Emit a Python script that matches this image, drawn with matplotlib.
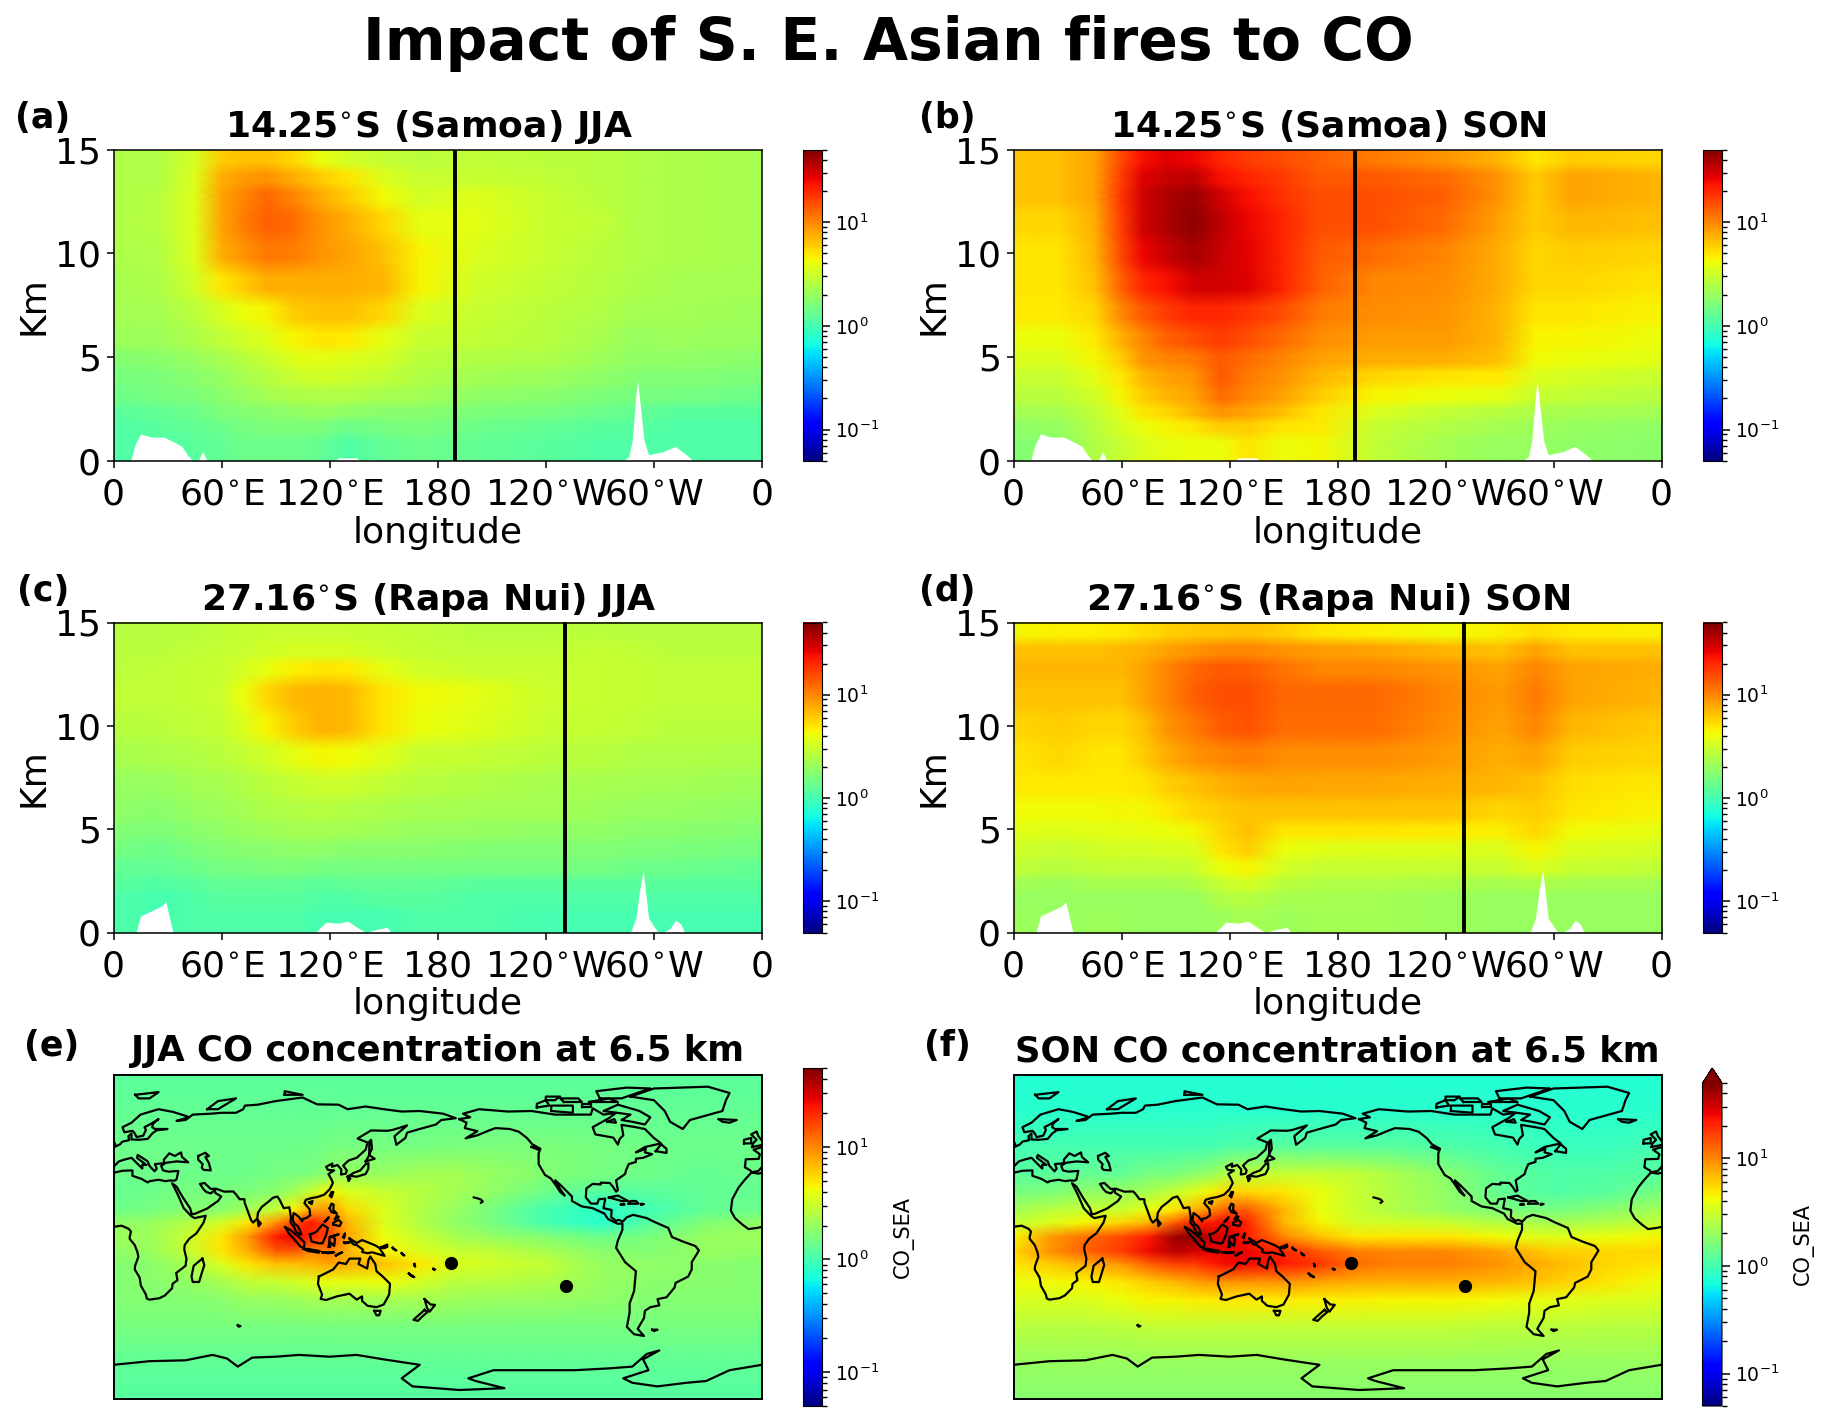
import numpy as np
import matplotlib
matplotlib.use("Agg")
import matplotlib.pyplot as plt
from matplotlib.colors import LogNorm

W, H = 1827, 1422
VMIN, VMAX = 0.05, 50

# ---------- section data (rows from top layer down) ----------
sec_lon = [0, 25, 45, 60, 72, 85, 100, 115, 130, 150, 170, 200, 240, 270, 290, 310, 360]
layer_edges = [15, 14.1, 13.2, 12.3, 10.7, 9.3, 7.8, 6.5, 5.3, 4.5, 3.6, 2.7, 2, 1.3, 0]

samoa_jja = [
 [2.5,2.5,3.3,6,6.5,6.5,5.5,4,3.2,2.9,2.7,2.8,2.7,2.6,2.5,2.4,2.3],
 [2.5,2.5,3.5,7.5,8.5,9,7.5,6,5,3.5,3,3,2.8,2.6,2.5,2.4,2.3],
 [2.5,2.6,3.6,8,10,12.5,10,7.5,6,4.2,3.2,3.6,3,2.7,2.5,2.4,2.3],
 [2.5,2.6,3.6,8,10.5,13,12,9,7.5,5.5,3.8,3.8,3,2.8,2.5,2.4,2.3],
 [2.4,2.5,3.6,7.5,9,11,10.5,9,8,6.5,4.5,3.5,3,2.7,2.5,2.4,2.3],
 [2.3,2.4,3.2,5,6,7.5,7.5,7.5,7.5,7,4.5,3.2,2.8,2.6,2.4,2.3,2.2],
 [2.2,2.3,2.7,3.4,4,4.5,6,6.5,6.5,5.5,3.5,3,2.7,2.5,2.2,2.2,2.1],
 [2.1,2.1,2.4,2.8,3.2,3.6,4.5,5,4.8,3.8,3,2.8,2.6,2.3,2,2.1,2.0],
 [1.7,1.8,2,2.3,2.6,3,3.6,3.8,3.6,3.2,2.7,2.5,2.4,2.1,1.9,1.9,1.8],
 [1.5,1.6,1.8,2,2.3,2.6,3,3.2,3.1,2.8,2.5,2.2,2.1,1.9,1.7,1.7,1.6],
 [1.4,1.5,1.6,1.8,2,2.2,2.4,2.5,2.5,2.3,2.2,1.9,1.8,1.6,1.5,1.5,1.4],
 [1.2,1.3,1.4,1.6,1.7,1.8,1.9,2,1.9,1.8,1.8,1.6,1.5,1.4,1.3,1.2,1.2],
 [1.1,1.2,1.3,1.4,1.5,1.6,1.6,1.6,1.4,1.5,1.6,1.4,1.3,1.2,1.2,1.1,1.1],
 [1.1,1.1,1.2,1.3,1.4,1.4,1.4,1.3,1.1,1.3,1.4,1.3,1.2,1.1,1.1,1.1,1.1],
]
samoa_son = [
 [6.5,6.5,8,16,24,28,26,20,17,15,13,11,9,7,5,6,5.5],
 [6.5,6.5,8,17,28,32,34,24,20,17,14,14,12,9,6,8,7],
 [6.5,6.5,8,18,30,38,42,30,24,18,15,15,13,9,6,8,7],
 [5.5,5.5,7.5,17,30,38,45,34,26,20,15,15,12,8,6,7,6.5],
 [5,5,7,16,26,32,40,32,27,20,14,12,10,7.5,5.5,6,5.5],
 [5,5,6.5,13,20,24,30,30,28,20,13,10,9.5,7.5,5.5,5.5,5],
 [4.8,4.8,5.5,10,14,17,20,20,18,15,11,9.5,9,7,5,5,4.5],
 [4,4,4.8,7.5,10,13,15,17,15,12,9.5,8.5,8.5,7,4.5,4.5,4],
 [3.5,3.5,4.3,6,9,10,11,14,12,10,8,7.5,7.5,6.5,4.2,4,3.7],
 [3,3,3.8,5,7,8,9,14,11,9,7,5.5,5,4.8,3.5,3.3,3],
 [2.7,2.7,3.2,4.5,6,7,8,12,10,8,6,4.5,4,3.8,3,2.8,2.6],
 [2.2,2.3,2.8,3.8,5,5.5,7,9,8,6.5,5,3.5,2.8,2.6,2.4,2.3,2.2],
 [1.9,2,2.6,3.4,4,4.5,5,6,6,5,4.8,3,2.5,2.2,2.1,2,1.9],
 [1.7,1.8,2.5,3,3.5,3.8,4,4,5,4,4.3,2.8,2.2,2,2,1.9,1.8],
]
rapa_jja = [
 [2.6,2.6,2.7,2.8,2.9,3,3,3,3,2.9,2.8,2.7,2.7,2.7,2.6,2.6,2.6],
 [2.7,2.7,2.8,2.9,3,3.2,3.3,3.4,3.3,3.1,2.9,2.8,2.8,2.9,2.8,2.7,2.7],
 [2.7,2.8,2.9,3,3.3,3.9,4.6,5,4.8,3.8,3.2,3,3,3,2.9,2.8,2.8],
 [2.8,2.8,2.9,3.1,4,5.5,6.8,7.3,6.8,5,4.2,3.8,3.1,3,2.9,2.8,2.8],
 [2.6,2.7,2.8,2.9,3.5,4.5,6,7.3,6.8,5,4,3.6,3,2.9,2.8,2.7,2.7],
 [2.3,2.4,2.5,2.7,2.9,3.2,3.8,4.4,4.2,3.6,3,2.9,2.7,2.6,2.5,2.5,2.4],
 [2,2,2.2,2.3,2.5,2.7,2.9,3.1,3.1,2.8,2.6,2.5,2.3,2.3,2.2,2.2,2.1],
 [1.9,1.8,2,2.1,2.2,2.4,2.5,2.6,2.5,2.4,2.3,2.2,2.2,2.1,2,2,1.9],
 [1.7,1.6,1.8,1.9,2,2.1,2.2,2.2,2.2,2.1,2,2,1.9,1.9,1.8,1.8,1.7],
 [1.5,1.4,1.6,1.7,1.8,1.8,1.9,1.9,1.8,1.8,1.8,1.7,1.7,1.7,1.6,1.6,1.5],
 [1.3,1.3,1.4,1.5,1.5,1.6,1.6,1.5,1.5,1.5,1.5,1.5,1.5,1.5,1.4,1.4,1.3],
 [1.2,1.1,1.2,1.3,1.3,1.3,1.3,1.2,1.3,1.3,1.3,1.2,1.2,1.2,1.2,1.2,1.2],
 [1.1,1,1.1,1.2,1.2,1.2,1.2,1.1,1.1,1.2,1.2,1.1,1.1,1.1,1.1,1.1,1.1],
 [1.1,1,1.1,1.1,1.1,1.1,1.1,1,1,1,1.1,1.1,1,1,1,1,1],
]
rapa_son = [
 [4.4,4.6,4.6,4.8,5.3,5.8,6.2,6.2,6.5,5.8,5,4.6,4.2,4.6,5.2,4.8,4.6],
 [6.5,6.5,6.5,6.8,7.2,8,9,10,10,9,8.5,8,7,6.5,8,6.5,6.5],
 [7,7,7,7,8,10,12.5,14,13.5,11.5,10,10,9,8,10,8,7.5],
 [6.5,6.5,6.5,6.5,8,10,13,15,15,12.5,12.5,12.5,10,8.5,11,8,7],
 [5.5,6,5.5,5.5,6.5,9,11,13.5,14.5,12,12,12,9.5,8,10,7,6],
 [5,5.5,5,5,6,7.5,9,10,10.5,9.5,9.5,9.5,8.5,7.5,8,6,5.5],
 [4.8,4.8,4.8,4.8,5,5.8,6.5,7.2,7.8,8,7.8,7.8,7.5,7,6.5,5.2,4.8],
 [4.2,4.2,4.2,4.3,4.4,4.8,5.5,6,6.5,6.5,6.5,6.5,6.5,5.5,6,5,4.5],
 [3.7,3.6,3.7,3.8,3.9,4,4.3,5.5,6.5,5,5,5,4.8,4.6,5.5,4.2,3.8],
 [3.2,3,3.2,3.3,3.3,3.4,3.5,5,6,4,3.7,3.6,3.6,3.5,4.5,3.5,3.3],
 [2.8,2.6,2.8,2.8,2.8,2.8,3,4,4.5,3.3,3,3,3,3,3.5,3,2.8],
 [2.2,2.1,2.3,2.3,2.3,2.3,2.4,3,3.3,2.7,2.5,2.5,2.4,2.3,2.4,2.3,2.2],
 [2,2,2,2,2,2,2,2.5,2.6,2.3,2.3,2.2,2.1,2,2,2,2],
 [2.1,2,2.1,2.1,2,2,2,2.1,2.3,2.1,2.2,2.2,2.1,2,2,2,2],
]

# ---------- terrain along each section ----------
terr14_lon = [0,9.5,12,15,21,28,35,38,41,44,47,49.5,52,122,125,135,137,145,148,283,286,288,290,291,292,294.5,297,305,312,318,322,360]
terr14_z   = [0,0,0.8,1.3,1.15,1.15,0.85,0.7,0.3,0,0,0.45,0,0,0.15,0.15,0,0.05,0,0,0.2,1,3.2,3.85,3,1,0.3,0.45,0.7,0.3,0,0]
terr27_lon = [0,12.5,15,20,27,29,33,112,118,125,130,138,140,146,152,154,287,290,292,294,296,297,300,302,305,309,312,315,317,360]
terr27_z   = [0,0,0.8,1,1.3,1.5,0,0,0.5,0.45,0.55,0.1,0,0.15,0.25,0,0,0.7,2,3,1.5,0.7,0.3,0.05,0,0.2,0.6,0.4,0,0]

# ---------- maps at 6.5 km ----------
map_lon = [0,20,40,60,75,90,100,110,120,130,150,170,190,210,240,270,300,330,360]
map_lat = [90,70,50,35,25,15,8,0,-8,-15,-25,-35,-50,-70,-90]
map_jja = [
 [1.2,1.2,1.2,1.2,1.2,1.2,1.2,1.2,1.2,1.2,1.2,1.2,1.2,1.2,1.2,1.2,1.2,1.2,1.2],
 [1.3,1.3,1.3,1.3,1.3,1.3,1.3,1.3,1.3,1.3,1.3,1.3,1.3,1.3,1.3,1.3,1.3,1.3,1.3],
 [1.4,1.4,1.4,1.4,1.4,1.4,1.4,1.4,1.5,1.5,1.5,1.5,1.6,1.6,1.6,1.5,1.4,1.4,1.4],
 [1.4,1.4,1.4,1.4,1.4,1.5,1.5,1.6,1.8,2,2,2.2,2.2,2.0,1.7,1.5,1.4,1.3,1.4],
 [1.3,1.4,1.5,1.5,1.6,1.8,2.2,3,4.5,3.5,3,2.6,2.2,1.9,1.4,1.15,1.2,1.3,1.3],
 [1.4,1.5,1.7,1.8,2.2,3,4.5,8,9,5.5,3.5,2.5,2,1.5,1.0,0.82,1,1.3,1.4],
 [1.9,2,2.5,3.2,5,9,16,22,14,7,3.5,2.5,1.9,1.5,1.0,0.8,1.2,1.7,1.9],
 [2.1,2.1,3,5,9,22,26,20,16,8,4,3,2.3,2,1.7,1.4,1.6,2,2.1],
 [1.9,2,2.8,5,7.5,14,14,10,11,7,4.5,3.5,3,2.8,2.3,1.8,1.7,2,1.9],
 [1.7,1.8,2.2,3.5,5,6.5,6.5,7,8,7.5,6.5,5,3.5,3.2,2.8,2,1.9,1.8,1.7],
 [1.7,1.8,1.9,2.3,2.8,3,3.2,3.5,4,3.8,4,3.3,2.6,2.6,2.4,2,1.8,1.8,1.7],
 [1.7,1.7,1.7,1.8,2,2,2.1,2.2,2.2,2.2,2.2,2.2,2.1,2,2,1.9,1.7,1.7,1.7],
 [1.5,1.5,1.5,1.5,1.5,1.5,1.5,1.5,1.5,1.5,1.5,1.5,1.5,1.5,1.5,1.5,1.5,1.5,1.5],
 [1.25,1.25,1.25,1.25,1.25,1.25,1.25,1.25,1.25,1.25,1.25,1.25,1.25,1.25,1.25,1.25,1.25,1.25,1.25],
 [1.15,1.15,1.15,1.15,1.15,1.15,1.15,1.15,1.15,1.15,1.15,1.15,1.15,1.15,1.15,1.15,1.15,1.15,1.15],
]
map_son = [
 [0.75,0.75,0.75,0.75,0.75,0.75,0.75,0.75,0.75,0.75,0.75,0.75,0.75,0.75,0.75,0.75,0.75,0.75,0.75],
 [0.8,0.8,0.8,0.8,0.8,0.8,0.8,0.8,0.8,0.8,0.8,0.8,0.8,0.8,0.8,0.8,0.8,0.8,0.8],
 [1,1,1,1,1,1,1,1,1.1,1.1,1.2,1.2,1.2,1.2,1.1,1,0.9,0.9,1],
 [1.2,1.2,1.3,1.3,1.5,1.6,1.8,2,2.6,2.8,3,3,2.8,2.4,1.8,1.3,1.1,1.1,1.2],
 [1.5,1.6,1.9,2,2.3,3,3.6,4.5,5.5,5.5,5,4,3,2.5,1.9,1.3,1.1,1.2,1.5],
 [2.2,2.6,3,3,4,5,7,10,14,14,7,4,3,2.5,2,1.6,1.5,1.8,2.2],
 [2.8,3.5,4.5,5.5,7,14,20,22,25,20,7,4.5,3.2,3.2,3,2.5,2.2,2.5,2.8],
 [4.5,8.5,12,16,22,42,45,32,28,22,10,6.5,5,5,5,4.2,3.6,4,4.5],
 [5.5,9,13,17,25,35,30,26,26,26,20,14,10.5,10,10,8,5.8,5.5,5.5],
 [5,6,7.5,9,13,17,17,22,25,25,22,18,12,10.5,10.5,9,7,5.5,5],
 [4,4.2,4.5,5,6,7,8,9,9,9,9,8,7.5,7.5,7.5,7,6,5,4],
 [3.4,3.4,3.5,4,4.5,4.5,4.7,4.7,4.8,4.8,4.7,4.6,4.6,4.5,4.5,4.2,3.8,3.5,3.4],
 [2.6,2.6,2.6,2.7,2.8,2.8,2.8,2.8,2.8,2.8,2.8,2.8,2.8,2.8,2.8,2.7,2.7,2.6,2.6],
 [2,2,2,2,2,2,2,2,2,2,2,2,2,2,2,2,2,2,2],
 [1.75,1.75,1.75,1.75,1.75,1.75,1.75,1.75,1.75,1.75,1.75,1.75,1.75,1.75,1.75,1.75,1.75,1.75,1.75],
]

# ---------- stations ----------
station_lon = [187.5, 251]
station_lat = [-14.25, -27.16]
section_line_lon = [189.5, 250.5]

# ---------- coastlines (lon, lat) ----------
coast_afroeurasia = [(-5.9,35.8),(-9.8,31.5),(-13,27.5),(-16.5,21),(-17.3,14.7),(-15,10.5),(-11,7),(-7.5,4.4),(-3,5),(1,5.8),(4.5,6.3),(8.5,4.5),(9.7,3),(9,0),(9,-1),(11.8,-4.5),(13.3,-8.5),(13.8,-11),(12,-16),(11.8,-18),(14.5,-22.5),(15.2,-27),(18,-32),(18.5,-34.2),(20,-34.8),(25.5,-34),(28.5,-32.5),(32.5,-28.5),(32.8,-26),(35.5,-24),(34.8,-20),(40,-16),(40.5,-12),(39.3,-7),(39.5,-4.5),(42,-1),(46,2),(50,8),(51.2,11.8),(45,10.5),(43.3,11.5),(39,16),(35.5,24),(32.5,29.9),(35,28),(38.5,22),(42.5,16),(43.5,12.7),(45,12.8),(52,15.8),(58,20),(59.8,22.5),(56.5,24.5),(56.3,26.2),(54,24.2),(51.5,25),(50,26.5),(48,29.5),(50.5,30),(54,26.7),(57,26.8),(61.5,25.2),(66.5,25.3),(68,23.7),(70,21),(72.7,21),(72.8,19),(74.5,14.5),(76.3,9.5),(77.5,8),(79.8,10.3),(80.2,13.5),(82.3,16.7),(86.5,20),(88.5,21.8),(91,22.5),(92.3,20.5),(94.5,16),(97.6,16.5),(98.5,11),(98.3,8),(100.3,5.5),(101.3,3),(103.5,1.3),(104.2,1.5),(103.4,4),(102.3,6),(100.5,7.3),(99.5,9.5),(100,13.3),(101,12.7),(103,11),(104.8,8.7),(105,10),(107,10.5),(109.2,12),(108.8,15.5),(106,18.8),(106.8,20.7),(109.5,21.5),(113.5,22.3),(117,23.5),(120,26.5),(121.8,30),(121,32),(119.3,35),(122.5,37),(119,37.3),(118,39),(121.5,40.8),(121.3,39),(124.3,40),(126.5,37.5),(126.3,34.7),(129,35.2),(129.5,37),(127.5,39.7),(130.5,42.5),(135,44),(140,48.5),(141,52.5),(135.5,54.7),(143,59.2),(152,59),(155,59.5),(163,62),(156,56),(157,51.2),(162,55),(163,58),(170,60),(179,62.5),(182,65),(190,66),(183,68.5),(170,70),(160,69.7),(150,71),(140,72.5),(130,71),(125,73.5),(113,73.7),(105,77.5),(90,75.5),(80,73.5),(73,73),(72,71),(68,69),(60,69),(54,68.5),(44,68),(40,65),(35,64.5),(40,66),(41,67),(33,69.5),(25,71),(15,68),(10,63.5),(5,61),(6,58.2),(10.5,59),(11.5,58),(12.9,55.5),(16.5,56.3),(18,59.5),(17.2,61),(21,63),(25,65.5),(22,63),(21.5,61),(23,60),(30,60),(24,59.3),(21.5,57.5),(19,54.5),(14,54),(10,54.2),(10,57.5),(8.3,56),(8.7,53.8),(5,53),(3.5,51.4),(0.5,50),(-1.5,49.5),(-4.7,48.5),(-1.2,46),(-1.8,43.4),(-9,43.2),(-9.5,38.7),(-6.5,37),(-5.6,36),(-2,36.7),(0,39),(3,42),(6,43),(10,44),(12.5,41.5),(16,38),(16,40.2),(18.3,40),(13,44),(13.5,45.6),(19,42),(20,39.5),(22.8,36.5),(24,38),(23,40.5),(26,40.8),(28,41),(28,43),(31,46.5),(34,45),(37.5,47),(38,44.5),(41.5,41.5),(35,42),(29,41.2),(26.5,39.5),(27.5,37),(30.5,36.3),(36,36.7),(35,32),(34,31.3),(31,31.4),(29,31),(25,31.8),(20,31),(19,30.3),(15.5,32.3),(10.5,34),(10.5,37),(5,36.8),(-2,35.2),(-5.9,35.8)]
coast_americas = [(-168,65.5),(-162,66.5),(-166,68.5),(-157,71),(-141,69.7),(-128,70),(-115,68),(-108,68),(-95,68),(-94,71.5),(-88,68),(-81,69),(-85,66),(-94,61),(-92.5,57),(-82.5,55.2),(-80,51.3),(-79,54.5),(-77,56.5),(-78,62.3),(-70,61),(-65,60),(-60,55),(-56,52),(-65,50),(-70,47),(-64.5,49),(-65,47),(-61,46),(-66,44),(-70,43.5),(-70,41.7),(-74,40.5),(-75.5,37),(-76,35),(-81,31.5),(-80,26),(-81,25.2),(-82.8,28),(-84.5,30),(-89.5,30.2),(-89.5,29.2),(-94,29.5),(-97.5,27),(-97.8,22),(-95,18.6),(-91.5,18.5),(-90.5,21),(-87,21.3),(-88,16),(-83.5,15),(-83.7,11),(-81,9),(-79.5,9.5),(-77.3,8.6),(-75,11),(-71.5,12.3),(-64,10.5),(-60,8.5),(-52,5),(-50,0),(-44,-2.5),(-37,-5),(-35,-7.5),(-39,-14),(-39,-18),(-41,-22),(-48,-25.5),(-48.5,-28),(-53,-33.5),(-58,-34.5),(-57,-38),(-62,-39),(-65,-41),(-65.5,-45),(-69,-51),(-65.5,-55),(-71,-54),(-75,-50),(-73.5,-42),(-73.5,-37),(-71,-30),(-70,-19),(-76,-14),(-81,-6),(-80,-2),(-77.5,4),(-77.5,7.5),(-80,7.3),(-85.5,10),(-87.5,13),(-94,16),(-100,17),(-105.5,20),(-105.5,22.5),(-112,29),(-114.8,31.5),(-112,26.5),(-109.5,23),(-112,25),(-115,29.5),(-117.2,32.5),(-120.5,34.5),(-124,40.5),(-124,46.5),(-123,49),(-127.5,51.5),(-130.5,55),(-135,58.5),(-140,60),(-148,60.5),(-152,59),(-158,56.5),(-164.5,54.8),(-158,58.8),(-165,60.5),(-164,63.5),(-168,65.5)]
coast_antarctica = [(0,-71),(20,-69),(40,-68.5),(55,-65.5),(63,-67.5),(69,-72),(77,-67),(90,-66.5),(103,-65.5),(120,-66.5),(135,-65.5),(150,-68),(170,-71),(160,-78.5),(166,-83),(192,-85),(217,-84),(201,-80),(197,-78.5),(211,-74),(235,-74),(256,-74),(275,-73),(288,-72),(296,-65),(303,-63),(294,-68),(297,-74),(283,-78.5),(288,-81),(302,-83),(318,-81),(329,-80),(342,-74),(360,-71)]
coast_australia = [(114,-22),(113.5,-26),(115.8,-32),(115,-34.4),(118,-35),(124,-33),(131,-31.5),(135,-34.8),(138,-33),(138,-35.5),(141,-38.2),(146,-39),(150,-37.5),(153,-32),(153.5,-26),(149.5,-22),(146,-19),(145.3,-15),(142.5,-10.8),(141.5,-13),(140.8,-17.5),(136,-15),(137,-12),(131,-12),(129,-15),(125,-14.2),(122,-18),(114,-22)]
coast_greenland = [(-73,78),(-60,76),(-54,70),(-51,64),(-44,60),(-40,65),(-22,70),(-20,76),(-18,80),(-30,83.5),(-60,82.5),(-73,78)]
coast_islands = [
 [(47,45),(51,46.8),(53,45),(51,44.5),(53,41),(54,37),(50,37.3),(49,38.5),(49.5,40.5),(47,43),(47,45)],
 [(-80,73.5),(-68,70),(-62,66.5),(-65,62.5),(-72,64),(-78,65),(-73,68),(-88,70),(-80,73.5)],
 [(-117,70),(-105,69),(-105,73),(-117,73),(-117,70)],
 [(-90,77),(-78,77),(-62,82.5),(-75,83),(-92,81),(-90,77)],
 [(-125,72),(-118,73),(-120,76),(-125,74),(-125,72)],
 [(-96,75),(-80,75),(-85,77),(-96,75)],
 [(-110,75),(-100,75),(-102,77),(-112,77),(-110,75)],
 [(-100,72),(-95,72),(-95,74),(-100,74),(-100,72)],
 [(-120,76),(-115,76),(-112,78),(-120,78),(-120,76)],
 [(-86,64),(-81,63.5),(-82,65.5),(-86,64)],
 [(-59,47.7),(-53,46.7),(-53,49),(-56,51.5),(-59,47.7)],
 [(-85,22),(-80,23),(-74.3,20),(-78,20),(-85,22)],
 [(-74,18.5),(-68.5,18.5),(-70,20),(-73,20),(-74,18.5)],
 [(-78.3,18),(-76.3,18),(-77,18.5),(-78.3,18)],
 [(-67,18),(-65.5,18.3),(-67,18.5),(-67,18)],
 [(-156,19),(-155,19.7),(-156,20.8),(-158,21.5),(-160,22)],
 [(-128,50),(-124,48.5),(-126,50),(-128,50)],
 [(-24,65.5),(-14,65),(-18,63.5),(-22,64),(-24,65.5)],
 [(-5.5,50),(1,51.3),(0,53.5),(-2,56),(-3,58.6),(-6,57),(-3,54),(-5,52),(-5.5,50)],
 [(-10,52),(-6,52),(-6,55),(-10,54),(-10,52)],
 [(12,79),(25,80.5),(20,77),(14,77),(12,79)],
 [(52,71),(58,71),(68,77),(58,75.5),(52,71)],
 [(95,79),(105,79),(95,81),(95,79)],
 [(49.3,-12),(50.4,-15.5),(47.5,-25),(44,-25),(43.3,-22),(44.5,-16),(49.3,-12)],
 [(80,9.5),(81.8,7.5),(80.5,6),(80,9.5)],
 [(131,34),(135,33.5),(140,35),(141.5,38),(141.5,41),(140,40.5),(137,37),(133,35.5),(131,34)],
 [(140,42),(145,43.5),(142,45.5),(140,42)],
 [(130,33.5),(131.5,32.5),(130.5,31),(130,33.5)],
 [(142,46),(143.5,49),(143,54),(142,53),(142,46)],
 [(120.2,23),(121,22),(122,25),(121,25),(120.2,23)],
 [(108.7,19.2),(110.5,20),(110,18.3),(108.7,19.2)],
 [(120,16),(121,18.5),(122.2,18),(122,15),(124,13),(121,13.8),(120,16)],
 [(122,7),(125.5,6),(126.5,8),(125,9.5),(122,8),(122,7)],
 [(117.3,8.5),(119.5,11),(118.5,9.5),(117.3,8.5)],
 [(123,10),(125,11),(124,12),(123,10)],
 [(109,1.5),(111,2),(113,3.3),(116,7),(119,5),(118,1),(116,-3.5),(114,-3.5),(110,-2.5),(109,1.5)],
 [(95.3,5.5),(98,4),(103,0),(106,-3),(105.8,-5.8),(104,-5.5),(100.5,-1.5),(97,2.5),(95.3,5.5)],
 [(105.3,-6.5),(108.5,-6.7),(114.5,-7.8),(114,-8.7),(108,-7.8),(105.3,-6.5)],
 [(119.5,-5.5),(120,0),(125,1.5),(121,0.3),(123,-1),(122.5,-5),(120.5,-3),(120.3,-5.5),(119.5,-5.5)],
 [(123.5,-10.3),(127,-8.5),(125,-9.2),(123.5,-10.3)],
 [(116,-8.5),(119,-8.5),(122.5,-8.5),(119,-9),(116,-8.5)],
 [(127.5,0),(128.5,2),(128,-0.7),(127.5,0)],
 [(128,-3),(131,-3),(128.5,-3.5),(128,-3)],
 [(131,-0.8),(135,-3.3),(138,-1.7),(145,-4.5),(147.5,-6),(150.5,-10.5),(147,-9.5),(143.5,-8.5),(141,-9),(138,-8.3),(138.5,-7),(135,-4.5),(133,-4),(132,-2.8),(131,-0.8)],
 [(148.5,-5.7),(152,-4.2),(152,-5.5),(150,-6.3),(148.5,-5.7)],
 [(155,-6),(157,-7.5),(155.5,-6.8),(155,-6)],
 [(160,-9),(161.5,-10.3),(160.5,-9.8),(160,-9)],
 [(167,-15),(167.5,-16.5),(167,-16),(167,-15)],
 [(164,-20.3),(167,-22.3),(165,-21.5),(164,-20.3)],
 [(177.5,-17.7),(178.6,-18),(178,-18.3),(177.5,-17.7)],
 [(144.7,-41),(148.3,-41),(147.5,-43.5),(146,-43.5),(144.7,-41)],
 [(172.7,-34.5),(176,-37.5),(178.5,-37.7),(175.5,-41.5),(174,-39.3),(172.7,-34.5)],
 [(172.7,-40.5),(174.3,-41.7),(171,-44.5),(169,-46.6),(166.5,-46),(172.7,-40.5)],
 [(69,-49),(70.5,-49.5),(69.5,-49.8),(69,-49)],
 [(-61,-51.5),(-58,-51.5),(-60,-52.3),(-61,-51.5)],
]
coast_lines = [coast_afroeurasia, coast_americas, coast_antarctica, coast_australia, coast_greenland] + coast_islands

lon_ticks = [0, 60, 120, 180, 240, 300, 360]
lon_labels = ['0', r'60$^{\circ}$E', r'120$^{\circ}$E', '180', r'120$^{\circ}$W', r'60$^{\circ}$W', '0']
km_ticks = [0, 5, 10, 15]

sections = [
 ('14.25$^{\\circ}$S (Samoa) JJA', samoa_jja, terr14_lon, terr14_z, section_line_lon[0], '(a)'),
 ('14.25$^{\\circ}$S (Samoa) SON', samoa_son, terr14_lon, terr14_z, section_line_lon[0], '(b)'),
 ('27.16$^{\\circ}$S (Rapa Nui) JJA', rapa_jja, terr27_lon, terr27_z, section_line_lon[1], '(c)'),
 ('27.16$^{\\circ}$S (Rapa Nui) SON', rapa_son, terr27_lon, terr27_z, section_line_lon[1], '(d)'),
]

# ---------- layout in reference pixels ----------
col_x = [(113.5, 762), (1013.5, 1661.5)]
cbar_x = [(802.5, 822), (1702.5, 1722)]
row_y = [(149.5, 461), (622.5, 932.5)]
map_y = (1075, 1399)
map_cbar_y = (1068, 1406)
label_px = [(43, 118), (947, 118), (43, 591), (947, 591)]

fig = plt.figure(figsize=(W/100, H/100), dpi=100, facecolor='white')
def axpx(l, t, r, b):
    return fig.add_axes([l/W, 1-b/H, (r-l)/W, (b-t)/H])

norm = LogNorm(VMIN, VMAX)
cmap = plt.get_cmap('jet')
X_FS, TITLE_FS, TAG_FS = 26, 26, 25

def add_cbar(mesh, rect, extend='neither', label=None):
    cax = axpx(*rect)
    cb = fig.colorbar(mesh, cax=cax, extend=extend, extendfrac=0.046 if extend != 'neither' else None)
    cb.ax.tick_params(labelsize=13.5, which='major', length=6, width=1.1)
    cb.ax.tick_params(which='minor', length=3.5, width=1.0)
    if label:
        cb.set_label(label, fontsize=15, labelpad=10)
    return cb

def layer_rows(edges, frac=0.3):
    # each layer is flat over its middle part and blends into the next near its edges
    tops, bots = edges[:-1], edges[1:]
    h = tops - bots
    upper = tops - frac*h
    lower = bots + frac*h
    upper[0] = tops[0]
    lower[-1] = bots[-1]
    return np.column_stack([upper, lower]).ravel()

for i, (title, vals, tlon, tz, st, tag) in enumerate(sections):
    c, r = i % 2, i // 2
    ax = axpx(col_x[c][0], row_y[r][0], col_x[c][1], row_y[r][1])
    v = np.repeat(np.array(vals, float), 2, axis=0)
    z = layer_rows(np.array(layer_edges, float))
    XX, ZZ = np.meshgrid(sec_lon, z)
    mesh = ax.pcolormesh(XX, ZZ, v, norm=norm, cmap=cmap, shading='gouraud')
    ax.fill_between(tlon, 0, tz, color='white', lw=0, zorder=2)
    ax.plot([st, st], [0, 15], color='k', lw=2.8, zorder=3)
    ax.set_xlim(0, 360); ax.set_ylim(0, 15)
    ax.set_xticks(lon_ticks); ax.set_xticklabels(lon_labels)
    ax.set_yticks(km_ticks)
    ax.tick_params(labelsize=X_FS, length=5, width=1.1, pad=4)
    ax.tick_params(axis='x', pad=7)
    ax.set_xlabel('longitude', fontsize=X_FS, labelpad=3)
    ax.set_ylabel('Km', fontsize=X_FS, labelpad=3)
    ax.set_title(title, fontsize=TITLE_FS, fontweight='bold', x=0.486, pad=9)
    for s in ax.spines.values():
        s.set_linewidth(1.1)
    add_cbar(mesh, (cbar_x[c][0], row_y[r][0], cbar_x[c][1], row_y[r][1]))
    fig.text(label_px[i][0]/W, 1-label_px[i][1]/H, tag, fontsize=TAG_FS, fontweight='bold', ha='center', va='center')

map_titles = ['JJA CO concentration at 6.5 km', 'SON CO concentration at 6.5 km']
map_tags = ['(e)', '(f)']
map_tag_px = [(52, 1046), (947, 1046)]
map_ext = ['neither', 'max']
for c, field in enumerate([map_jja, map_son]):
    ax = axpx(col_x[c][0], map_y[0], col_x[c][1], map_y[1])
    LO, LA = np.meshgrid(map_lon, map_lat)
    mesh = ax.pcolormesh(LO, LA, np.array(field, float), norm=norm, cmap=cmap, shading='gouraud')
    for line in coast_lines:
        pts = np.array(line, float)
        for shift in (0, 360):
            ax.plot(pts[:, 0]+shift, pts[:, 1], color='k', lw=1.6, solid_joinstyle='round')
    ax.plot(station_lon, station_lat, 'o', color='k', ms=8.5, ls='none', zorder=5)
    ax.set_xlim(0, 360); ax.set_ylim(-90, 90)
    ax.set_xticks([]); ax.set_yticks([])
    for s in ax.spines.values():
        s.set_linewidth(1.4)
    ax.set_title(map_titles[c], fontsize=25.5, fontweight='bold', x=0.5, pad=10)
    add_cbar(mesh, (cbar_x[c][0], map_cbar_y[0], cbar_x[c][1], map_cbar_y[1]), extend=map_ext[c], label='CO_SEA')
    fig.text(map_tag_px[c][0]/W, 1-map_tag_px[c][1]/H, map_tags[c], fontsize=TAG_FS, fontweight='bold', ha='center', va='center')

fig.text(888/W, 1-43/H, 'Impact of S. E. Asian fires to CO', fontsize=42, fontweight='bold', ha='center', va='center')
fig.savefig('out.png', dpi=100, facecolor='white')
